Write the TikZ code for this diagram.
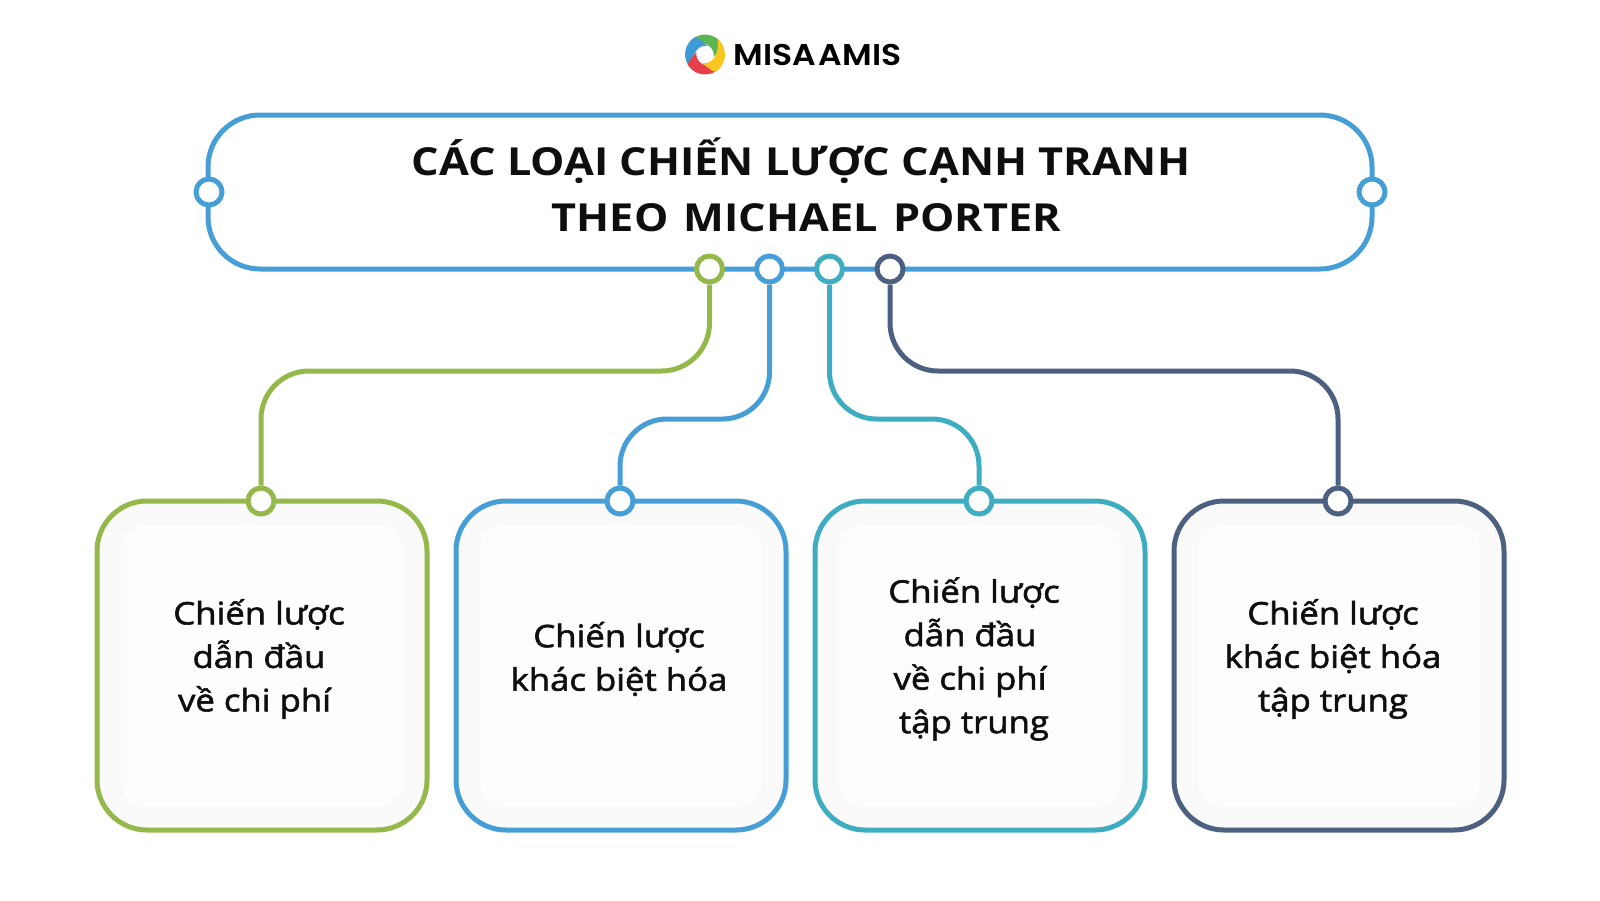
\documentclass[tikz,border=0pt]{standalone}
\usepackage{fontspec}
\setmainfont{Open Sans}
\newfontfamily\titlefont[FakeStretch=1.12,BoldFont={Open Sans Bold}]{Open Sans}
\newfontfamily\bodyfont[FakeStretch=1.12,FakeBold=1.8]{Open Sans}
\newfontfamily\logofont[FakeStretch=1.1]{Poppins SemiBold}
\definecolor{cgreen}{HTML}{94B84A}
\definecolor{cblue}{HTML}{459FD6}
\definecolor{cteal}{HTML}{3EADC1}
\definecolor{cnavy}{HTML}{4C6080}
\definecolor{ink}{HTML}{0E0E0E}
\tikzset{
  card/.style={draw=#1,line width=5pt,rounded corners=50pt,fill=black!2,minimum width=330pt,minimum height=329pt,inner sep=0pt},
  panel/.style={fill=black!0.6,rounded corners=24pt,minimum width=282pt,minimum height=282pt,inner sep=0pt},
  dot/.style={circle,draw=#1,line width=5pt,fill=white,minimum size=26pt,inner sep=0pt},
  link/.style={draw=#1,line width=5pt,line join=round},
  cardtext/.style={text=ink,align=center,inner sep=0pt,font={\bodyfont\fontsize{31}{43.5}\selectfont}},
  headbox/.style={draw=cblue,line width=5pt,rounded corners=52pt,minimum width=1164pt,minimum height=154pt,inner sep=0pt},
  headtext/.style={text=ink,align=center,inner sep=0pt,font={\titlefont\bfseries\fontsize{38.6}{56}\selectfont}}
}
\begin{document}
\begin{tikzpicture}[x=1pt,y=-1pt]
\useasboundingbox (0,0) rectangle (1600,900);
% logo
\begin{scope}[shift={(705,54.5)},yscale=-1]
  \foreach \ang/\col in {-35/5BB553,-125/3F9BD8,-215/E8404A,-305/F8C61C}{
    \definecolor{blade}{HTML}{\col}
    \fill[blade,rotate=\ang] (105:20) arc[start angle=105,end angle=-5,radius=20]
      .. controls (-20:16) and (-30:11) .. (-50:9)
      .. controls (5:13) and (60:14) .. (105:20) -- cycle;
  }
  \fill[white] (0,0) circle[radius=8];
\end{scope}
\node[anchor=center,inner sep=0pt,text=black,font={\logofont\fontsize{30}{30}\selectfont}] (logo) at (817.5,54.5) {MISA\kern-5pt\ AMIS};
% header
\node[headbox] (head) at (790,192) {};
\node[headtext] (title) at (801,185) {CÁC LOẠI CHIẾN LƯỢC CẠNH TRANH\\\hspace*{11pt}THEO\hspace{4pt} MICHAEL\hspace{4pt} PORTER};
\node[dot=cblue] (hl) at (209,192) {};
\node[dot=cblue] (hr) at (1372,192) {};
\node[dot=cgreen] (d1) at (709.5,269) {};
\node[dot=cblue] (d2) at (769.5,269) {};
\node[dot=cteal] (d3) at (829.5,269) {};
\node[dot=cnavy] (d4) at (890,269) {};
% cards
\node[card=cgreen] (c1) at (262,665.5) {};
\node[card=cblue] (c2) at (621,665.5) {};
\node[card=cteal] (c3) at (980,665.5) {};
\node[card=cnavy] (c4) at (1339,665.5) {};
\node[panel] (p1) at (262,665.5) {};
\node[panel] (p2) at (621,665.5) {};
\node[panel] (p3) at (980,665.5) {};
\node[panel] (p4) at (1339,665.5) {};
\node[dot=cgreen] (t1) at (261,501) {};
\node[dot=cblue] (t2) at (620,501) {};
\node[dot=cteal] (t3) at (979,501) {};
\node[dot=cnavy] (t4) at (1338,501) {};
% elbows
\coordinate (a1) at (709.5,371);
\coordinate (b1) at (261,371);
\coordinate (a2) at (769.5,419);
\coordinate (b2) at (620,419);
\coordinate (a3) at (829.5,419);
\coordinate (b3) at (979,419);
\coordinate (a4) at (890,371);
\coordinate (b4) at (1338,371);
\draw[link=cgreen,rounded corners=48pt] (d1.south) -- (a1) -- (b1) -- (t1.north);
\draw[link=cblue,rounded corners=47pt] (d2.south) -- (a2) -- (b2) -- (t2.north);
\draw[link=cteal,rounded corners=47pt] (d3.south) -- (a3) -- (b3) -- (t3.north);
\draw[link=cnavy,rounded corners=48pt] (d4.south) -- (a4) -- (b4) -- (t4.north);
% card texts
\node[cardtext] (x1) at (259,659) {Chiến lược\\dẫn đầu\\về chi phí\hspace*{9pt}};
\node[cardtext] (x2) at (619,659) {Chiến lược\\khác biệt hóa};
\node[cardtext] (x3) at (974,659) {Chiến lược\\\hspace*{-8pt}dẫn đầu\\\hspace*{-8pt}về chi phí\\tập trung};
\node[cardtext] (x4) at (1333,659) {Chiến lược\\khác biệt hóa\\tập trung};
\end{tikzpicture}
\end{document}
